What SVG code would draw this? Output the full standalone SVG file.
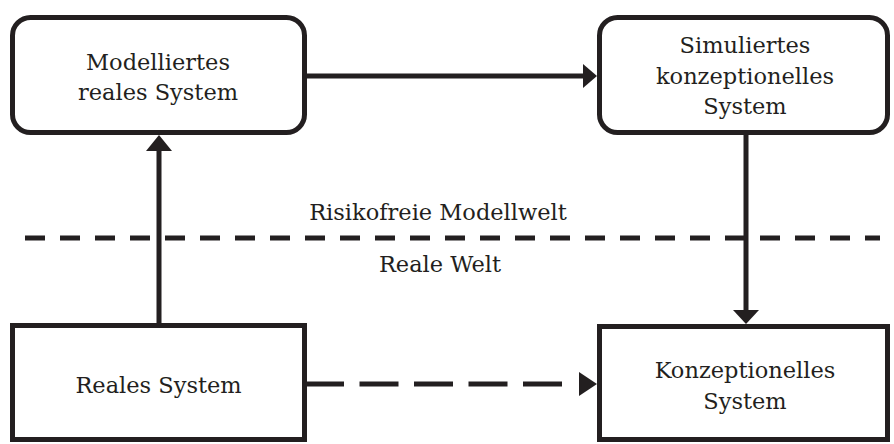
<svg xmlns="http://www.w3.org/2000/svg" width="894" height="444" viewBox="0 0 894 444">
<style>
.box{fill:#fff;stroke:#231f20;stroke-width:5}
.lbl{font-family:"DejaVu Serif","Liberation Serif",serif;font-size:22.5px;fill:#231f20;text-anchor:middle}
.ln{stroke:#231f20;stroke-width:5;fill:none}
.hd{fill:#231f20}
</style>
<rect width="894" height="444" fill="#fff"/>
<g id="connectors">
<line class="ln" x1="307" y1="76" x2="585" y2="76"/>
<polygon class="hd" points="597,76 583,64 583,88"/>
<line class="ln" x1="159" y1="323" x2="159" y2="149"/>
<polygon class="hd" points="159,135 146,151 172,151"/>
<line class="ln" x1="746" y1="135" x2="746" y2="312"/>
<polygon class="hd" points="746,324 733,310 759,310"/>
<line class="ln" x1="305" y1="384" x2="562" y2="384" stroke-dasharray="39 15.5"/>
<polygon class="hd" points="597,384 579,372 579,396"/>
</g>
<g id="separator">
<line class="ln" x1="25" y1="238" x2="880" y2="238" stroke-dasharray="20 15"/>
<text class="lbl" x="438" y="220">Risikofreie Modellwelt</text>
<text class="lbl" x="440" y="272">Reale Welt</text>
</g>
<g id="modelliertes">
<rect class="box" x="12.5" y="17.5" width="292" height="115" rx="18"/>
<text class="lbl" x="158" y="70">Modelliertes</text>
<text class="lbl" x="158" y="100">reales System</text>
</g>
<g id="simuliertes">
<rect class="box" x="599.5" y="17.5" width="288" height="115" rx="18"/>
<text class="lbl" x="745" y="53">Simuliertes</text>
<text class="lbl" x="745" y="84">konzeptionelles</text>
<text class="lbl" x="745" y="114">System</text>
</g>
<g id="reales">
<rect class="box" x="12.5" y="325.5" width="292" height="114"/>
<text class="lbl" x="158.5" y="393">Reales System</text>
</g>
<g id="konzeptionelles">
<rect class="box" x="599.5" y="326.5" width="288" height="113"/>
<text class="lbl" x="745" y="378">Konzeptionelles</text>
<text class="lbl" x="745" y="409">System</text>
</g>
</svg>
